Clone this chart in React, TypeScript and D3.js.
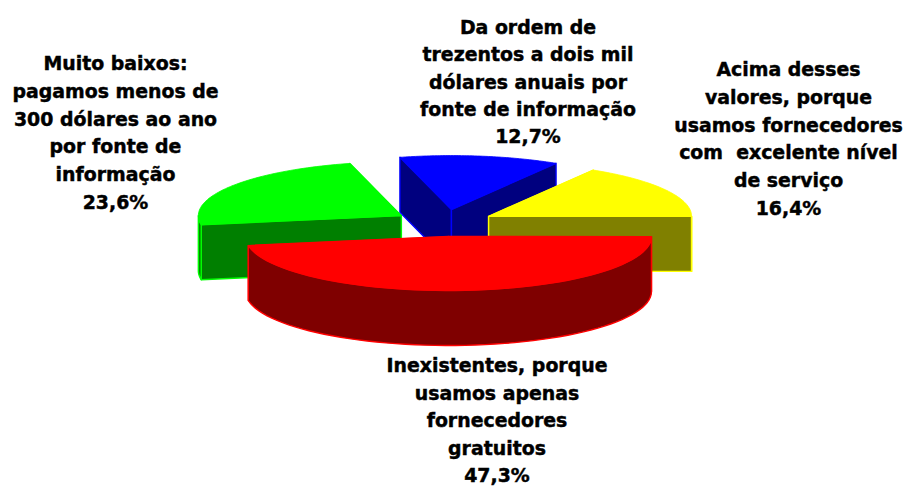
import React from "react";
import * as d3 from "d3";

const sliceNames = ["blue", "yellow", "red", "green"];
const sliceValues = [12.7, 16.4, 47.3, 23.6];
const topColors = ["#0000ff", "#ffff00", "#ff0000", "#00ff00"];
const wallColors = ["#00007f", "#808000", "#7f0000", "#007f00"];

const labelLines = [
  ["Da ordem de", "trezentos a dois mil", "dólares anuais por", "fonte de informação", "12,7%"],
  ["Acima desses", "valores, porque", "usamos fornecedores", "com  excelente nível", "de serviço", "16,4%"],
  ["Inexistentes, porque", "usamos apenas", "fornecedores", "gratuitos", "47,3%"],
  ["Muito baixos:", "pagamos menos de", "300 dólares ao ano", "por fonte de", "informação", "23,6%"],
];
const labelX = [528, 788.5, 497, 115.5];
const labelY = [34, 76, 372, 70];
const labelStep = [27.25, 27.8, 27.5, 27.8];

const W = 908, H = 489;
const CX = 444.2, CY = 223, RX = 203, RY = 54, DEPTH = 55, EXPLODE = 51;
const START = (-14.7 * Math.PI) / 180;

const pie = d3.pie<number>().sort(null).startAngle(START).endAngle(START + 2 * Math.PI);
const arcs = pie(sliceValues);

type P = [number, number];
const toPath = d3.line<P>().x(d => d[0]).y(d => d[1]);

function Slice({ i }: { i: number }) {
  const a = arcs[i];
  const mid = (a.startAngle + a.endAngle) / 2;
  const ox = CX + EXPLODE * Math.sin(mid);
  const oy = CY - EXPLODE * (RY / RX) * Math.cos(mid);
  const pt = (t: number, dz = 0): P => [ox + RX * Math.sin(t), oy - RY * Math.cos(t) + dz];
  const sampled = (s: number, e: number) => d3.range(0, 61).map(k => s + ((e - s) * k) / 60);
  const ts = sampled(a.startAngle, a.endAngle);
  const apex: P = [ox, oy];
  const apexD: P = [ox, oy + DEPTH];
  const top = toPath([apex, ...ts.map(t => pt(t))])! + "Z";
  const wall = (t: number) => toPath([apex, pt(t), pt(t, DEPTH), apexD])! + "Z";
  // back cut wall first, so its edge never shows through the front one
  const cuts = [a.startAngle, a.endAngle].sort((p, q) => pt(p)[1] - pt(q)[1]);
  // front half of the rim only: angles between 90 and 270 degrees
  const lo = Math.max(a.startAngle, Math.PI / 2);
  const hi = Math.min(a.endAngle, (3 * Math.PI) / 2);
  const rim = hi > lo ? sampled(lo, hi) : null;
  const rimPath = rim
    ? toPath([...rim.map(t => pt(t)), ...rim.slice().reverse().map(t => pt(t, DEPTH))])! + "Z"
    : null;
  const walls = {
    fill: wallColors[i],
    stroke: topColors[i],
    strokeWidth: 1.4,
    strokeLinejoin: "round" as const,
  };
  return (
    <g data-name={sliceNames[i]}>
      {cuts.map((t, k) => <path key={k} d={wall(t)} {...walls} />)}
      {rimPath && <path d={rimPath} {...walls} />}
      <path d={top} fill={topColors[i]} stroke={topColors[i]} strokeWidth={0.8} />
    </g>
  );
}

export default function App() {
  return (
    <svg
      width={W}
      height={H}
      viewBox={`0 0 ${W} ${H}`}
      style={{ position: "absolute", left: 0, top: 0, background: "#fff" }}
    >
      {[0, 1, 3, 2].map(i => <Slice key={i} i={i} />)}
      {labelLines.map((lines, i) => (
        <text
          key={i}
          textAnchor="middle"
          fontFamily="'DejaVu Sans', Verdana, sans-serif"
          fontWeight="bold"
          fontSize={18.9}
          fill="#000"
          stroke="#000"
          strokeWidth={0.45}
        >
          {lines.map((l, j) => (
            <tspan key={j} x={labelX[i]} y={labelY[i] + j * labelStep[i]} xmlSpace="preserve">{l}</tspan>
          ))}
        </text>
      ))}
    </svg>
  );
}
